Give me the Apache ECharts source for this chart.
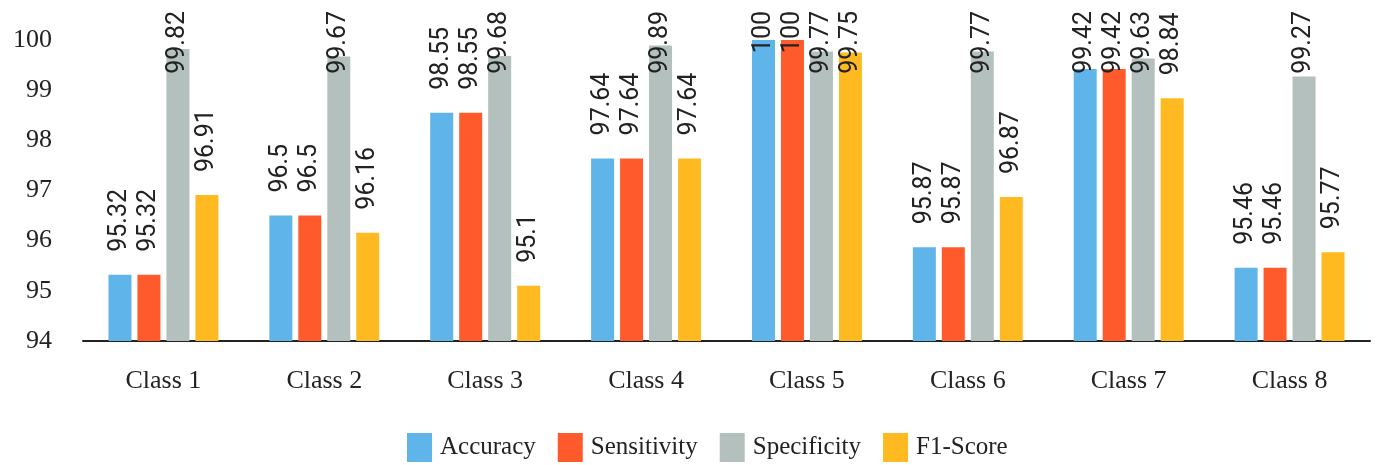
<!DOCTYPE html>
<html>
<head>
<meta charset="utf-8">
<script src="https://cdn.jsdelivr.net/npm/echarts@6/dist/echarts.min.js"></script>
<style>html,body{margin:0;padding:0;background:#fff}#c{width:1379px;height:465px}</style>
</head>
<body>
<div id="c"></div>
<script>
const categories = ['Class 1','Class 2','Class 3','Class 4','Class 5','Class 6','Class 7','Class 8'];
const accuracy    = [95.32, 96.5, 98.55, 97.64, 100, 95.87, 99.42, 95.46];
const sensitivity = [95.32, 96.5, 98.55, 97.64, 100, 95.87, 99.42, 95.46];
const specificity = [99.82, 99.67, 99.68, 99.89, 99.77, 99.77, 99.63, 99.27];
const f1score     = [96.91, 96.16, 95.1, 97.64, 99.75, 96.87, 98.84, 95.77];
const seriesNames = ['Accuracy','Sensitivity','Specificity','F1-Score'];
const colors = ['#5fb5ea','#ff5a2c','#b3c0bd','#ffba22'];

const chart = echarts.init(document.getElementById('c'), null, {renderer:'canvas'});
const serif = '"Liberation Serif", "Times New Roman", serif';
const labelFont = '25px Roboto';
const labelDist = 23;
const topLimit = 11;
const mctx = document.createElement('canvas').getContext('2d');
mctx.font = labelFont;
const allSeries = [accuracy, sensitivity, specificity, f1score];

const mk = (name, data, color) => ({
  name, type: 'bar', data, barWidth: 23, barGap: '26%',
  itemStyle: { color },
  label: {
    show: true, position: 'top', rotate: 90, align: 'left', verticalAlign: 'middle',
    distance: labelDist, fontFamily: 'Roboto', fontSize: 25, color: '#222'
  }
});
chart.setOption({
  animation: false,
  color: colors,
  grid: { left: 83, right: 9, top: 40, bottom: 124 },
  legend: {
    left: 402, top: 428, itemWidth: 25, itemHeight: 29, itemGap: 22,
    icon: 'rect',
    textStyle: { fontFamily: serif, fontSize: 25, color: '#222', padding: [0,0,0,3] },
    data: seriesNames
  },
  xAxis: {
    type: 'category', data: categories,
    axisLine: { lineStyle: { color: '#222', width: 2 } },
    axisTick: { show: false },
    axisLabel: { fontFamily: serif, fontSize: 26, color: '#222', margin: 27 }
  },
  yAxis: {
    type: 'value', min: 94, max: 100, interval: 1,
    splitLine: { show: false },
    axisLine: { show: false }, axisTick: { show: false },
    axisLabel: { fontFamily: serif, fontSize: 26, color: '#222', margin: 31 }
  },
  labelLayout: function (p) {
    const v = allSeries[p.seriesIndex][p.dataIndex];
    const len = mctx.measureText(String(v)).width;
    const barTop = p.rect.y;
    const textTop = barTop - labelDist - len;
    if (textTop < topLimit) {
      return { x: p.rect.x + p.rect.width / 2, y: topLimit + len };
    }
    return {};
  },
  series: [
    mk(seriesNames[0], accuracy, colors[0]),
    mk(seriesNames[1], sensitivity, colors[1]),
    mk(seriesNames[2], specificity, colors[2]),
    mk(seriesNames[3], f1score, colors[3])
  ]
});
</script>
</body>
</html>
